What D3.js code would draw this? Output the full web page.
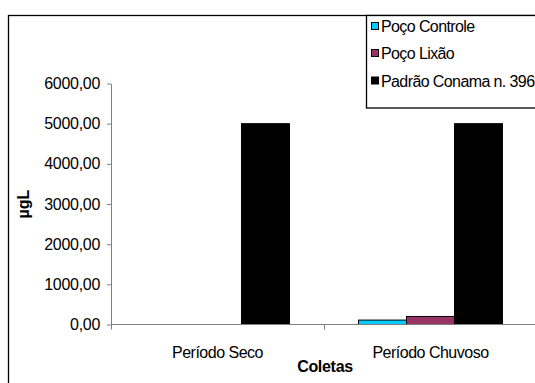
<!DOCTYPE html>
<html>
<head>
<meta charset="utf-8">
<script src="https://cdn.jsdelivr.net/npm/d3@7"></script>
<style>
  html, body { margin: 0; padding: 0; background: #fff; }
  svg { display: block; font-family: "Liberation Sans", Arial, sans-serif; }
</style>
</head>
<body>
<svg id="chart" width="535" height="383"></svg>
<script>
// ---- data ----
const categories = ["Período Seco", "Período Chuvoso"];
const seriesNames = ["Poço Controle", "Poço Lixão", "Padrão Conama n. 396"];
const seriesColors = ["#00CCFF", "#993366", "#000000"];
const pocoControle = [0, 110];
const pocoLixao = [0, 200];
const padraoConama = [5000, 5000];
const yTicks = [0, 1000, 2000, 3000, 4000, 5000, 6000];
const yTitle = "µgL";
const xTitle = "Coletas";

const seriesValues = [pocoControle, pocoLixao, padraoConama];

const svg = d3.select("#chart");

// outer chart border (extends beyond the window on right and bottom)
svg.append("rect")
  .attr("x", 8.5).attr("y", 15.5)
  .attr("width", 600).attr("height", 400)
  .attr("fill", "none").attr("stroke", "#000").attr("stroke-width", 1.3);

// scales
const x = d3.scaleBand().domain(categories).range([111, 537]).paddingInner(0).paddingOuter(0);
const xs = d3.scaleBand().domain(seriesNames).range([0, x.bandwidth()]).paddingInner(0).paddingOuter(0.72);
const y = d3.scaleLinear().domain([0, 6000]).range([324.5, 83.5]);

// bars
const data = [];
categories.forEach((c, ci) => {
  seriesNames.forEach((s, si) => {
    data.push({ cat: c, series: s, value: seriesValues[si][ci], color: seriesColors[si] });
  });
});

svg.append("g").selectAll("rect")
  .data(data.filter(d => d.value > 0))
  .join("rect")
  .attr("x", d => x(d.cat) + xs(d.series))
  .attr("y", d => y(d.value))
  .attr("width", xs.bandwidth())
  .attr("height", d => y(0) - y(d.value))
  .attr("fill", d => d.color)
  .attr("stroke", "#000")
  .attr("stroke-width", 1);

// y axis
const yAxis = d3.axisLeft(y)
  .tickValues(yTicks)
  .tickSize(4)
  .tickSizeOuter(0)
  .tickPadding(7)
  .tickFormat(v => v.toFixed(2).replace(".", ","));
const gy = svg.append("g").attr("transform", "translate(111,0)").call(yAxis);
gy.select(".domain").attr("stroke", "#808080");
gy.selectAll(".tick line").attr("stroke", "#808080");
gy.selectAll(".tick text")
  .attr("font-size", 16)
  .attr("fill", "#000")
  .attr("letter-spacing", "-0.3px")
  .attr("font-family", "'Liberation Sans', Arial, sans-serif");

// x axis line
svg.append("line")
  .attr("x1", x.range()[0]).attr("x2", x.range()[1])
  .attr("y1", y(0)).attr("y2", y(0))
  .attr("stroke", "#808080").attr("stroke-width", 1);

// x boundary ticks
const bounds = categories.map(c => x(c)).concat([x.range()[1]]);
svg.append("g").selectAll("line")
  .data(bounds)
  .join("line")
  .attr("x1", d => Math.round(d) + 0.5).attr("x2", d => Math.round(d) + 0.5)
  .attr("y1", y(0)).attr("y2", y(0) + 5)
  .attr("stroke", "#808080");

// category labels
svg.append("g").selectAll("text")
  .data(categories)
  .join("text")
  .attr("x", d => x(d) + x.bandwidth() / 2)
  .attr("y", 358)
  .attr("text-anchor", "middle")
  .attr("font-size", 16)
  .attr("letter-spacing", "-0.5px")
  .text(d => d);

// axis titles
svg.append("text")
  .attr("x", 325).attr("y", 372)
  .attr("text-anchor", "middle")
  .attr("font-size", 16)
  .attr("font-weight", "bold")
  .attr("letter-spacing", "-0.3px")
  .text(xTitle);

svg.append("text")
  .attr("transform", "translate(29," + ((y(0) + y(6000)) / 2) + ") rotate(-90)")
  .attr("text-anchor", "middle")
  .attr("font-size", 16)
  .attr("font-weight", "bold")
  .text(yTitle);

// legend
const legend = svg.append("g");
legend.append("rect")
  .attr("x", 366.5).attr("y", 15.5)
  .attr("width", 300).attr("height", 92.5)
  .attr("fill", "#fff").attr("stroke", "#000").attr("stroke-width", 1.3);

const rowY = [26, 53, 80.5];
const li = legend.selectAll("g.item")
  .data(seriesNames)
  .join("g").attr("class", "item");
li.append("rect")
  .attr("x", 371.5)
  .attr("y", (d, i) => rowY[i] - 3.5)
  .attr("width", 7).attr("height", 7)
  .attr("fill", (d, i) => seriesColors[i])
  .attr("stroke", "#000").attr("stroke-width", 1);
li.append("text")
  .attr("x", 381)
  .attr("y", (d, i) => rowY[i] + 6)
  .attr("font-size", 16)
  .attr("letter-spacing", "-0.6px")
  .text(d => d);
</script>
</body>
</html>
